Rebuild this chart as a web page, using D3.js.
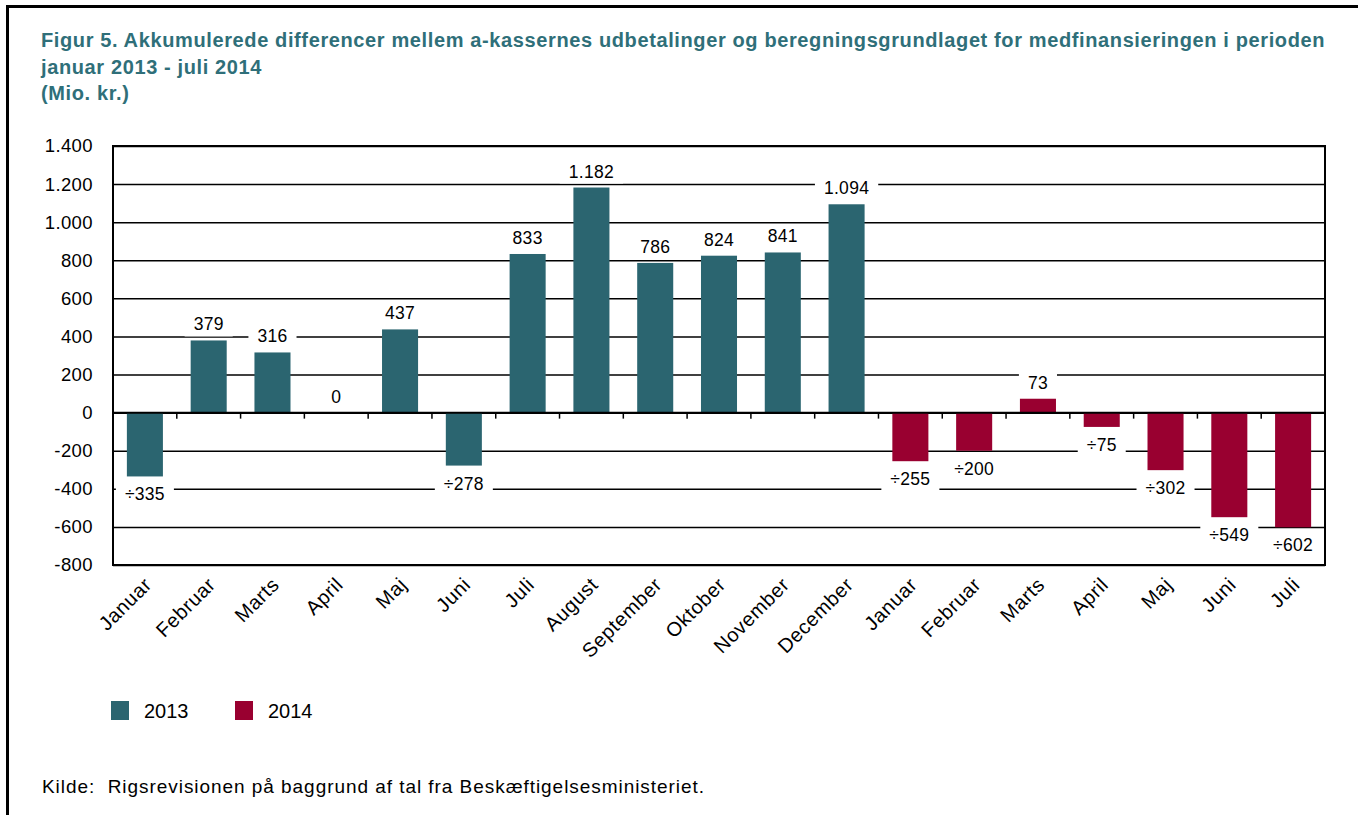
<!DOCTYPE html>
<html>
<head>
<meta charset="utf-8">
<script src="https://cdn.jsdelivr.net/npm/d3@7"></script>
<style>
	body { margin: 0; background: #fff; }
	svg { display: block; font-family: "Liberation Sans", Arial, sans-serif; }
</style>
</head>
<body>
<svg id="chart" width="1358" height="815"></svg>
<script>
// Categories (months) and the year each one belongs to
var months = [ 'Januar', 'Februar', 'Marts', 'April', 'Maj', 'Juni', 'Juli', 'August', 'September', 'Oktober', 'November', 'December',
	'Januar', 'Februar', 'Marts', 'April', 'Maj', 'Juni', 'Juli' ];
var years = [ '2013', '2013', '2013', '2013', '2013', '2013', '2013', '2013', '2013', '2013', '2013', '2013',
	'2014', '2014', '2014', '2014', '2014', '2014', '2014' ];
// Akkumulerede differencer, mio. kr.
var values = [ -335, 379, 316, 0, 437, -278, 833, 1182, 786, 824, 841, 1094,
	-255, -200, 73, -75, -302, -549, -602 ];
var seriesNames = [ '2013', '2014' ];
var yTicks = [ -800, -600, -400, -200, 0, 200, 400, 600, 800, 1000, 1200, 1400 ];

var titleLines = [
	'Figur 5. Akkumulerede differencer mellem a-kassernes udbetalinger og beregningsgrundlaget for medfinansieringen i perioden',
	'januar 2013 - juli 2014',
	'(Mio. kr.)'
];
var source = 'Kilde:  Rigsrevisionen på baggrund af tal fra Beskæftigelsesministeriet.';

var colors = { '2013': '#2b6570', '2014': '#990030' };
var titleColor = '#2f6f79';

var plot = { left: 113, top: 146, right: 1325, bottom: 565 };

var svg = d3.select( '#chart' );

var locale = d3.formatLocale( { decimal: ',', thousands: '.', grouping: [ 3 ], currency: [ '', '' ], minus: '-' } );
var fmt = locale.format( ',d' );
var labelFmt = function ( v ) {
	return v < 0 ? '\u00f7' + fmt( -v ) : fmt( v );
};

// outer frame (clipped at right / bottom like the source)
svg.append( 'rect' )
	.attr( 'x', 7.5 ).attr( 'y', 6.5 )
	.attr( 'width', 1400 ).attr( 'height', 900 )
	.attr( 'fill', 'none' ).attr( 'stroke', '#000' ).attr( 'stroke-width', 3 );

// title
svg.append( 'g' ).selectAll( 'text' )
	.data( titleLines )
	.enter()
	.append( 'text' )
	.attr( 'x', 41 )
	.attr( 'y', function ( d, i ) { return 47 + i * 26.5; } )
	.attr( 'fill', titleColor )
	.attr( 'font-weight', 'bold' )
	.attr( 'font-size', '20px' )
	.attr( 'letter-spacing', '0.62px' )
	.text( function ( d ) { return d; } );

var idx = d3.range( values.length );

var x = d3.scaleBand()
	.domain( idx )
	.range( [ plot.left, plot.right ] )
	.paddingInner( 0.435 )
	.paddingOuter( 0.2175 );

var y = d3.scaleLinear()
	.domain( [ -800, 1400 ] )
	.range( [ plot.bottom, plot.top ] );

// gridlines + y labels
var yAxis = svg.append( 'g' )
	.attr( 'transform', 'translate(' + plot.left + ',0)' )
	.call( d3.axisLeft( y ).tickValues( yTicks ).tickSize( -( plot.right - plot.left ) ).tickPadding( 20 ).tickFormat( fmt ) );
yAxis.select( '.domain' ).remove();
yAxis.selectAll( 'line' ).attr( 'stroke', '#000' ).attr( 'stroke-width', 1.5 );
yAxis.selectAll( 'text' )
	.attr( 'font-size', '18.5px' )
	.attr( 'letter-spacing', '0.4px' )
	.attr( 'fill', '#000' )
	.attr( 'font-family', '"Liberation Sans", Arial, sans-serif' );

// bars
svg.append( 'g' ).selectAll( 'rect' )
	.data( idx )
	.enter()
	.append( 'rect' )
	.attr( 'x', function ( i ) { return x( i ); } )
	.attr( 'width', x.bandwidth() )
	.attr( 'y', function ( i ) { return y( Math.max( 0, values[i] ) ); } )
	.attr( 'height', function ( i ) { return Math.abs( y( values[i] ) - y( 0 ) ); } )
	.attr( 'fill', function ( i ) { return colors[ years[i] ]; } );

// zero axis with category separators
svg.append( 'line' )
	.attr( 'x1', plot.left ).attr( 'x2', plot.right )
	.attr( 'y1', y( 0 ) ).attr( 'y2', y( 0 ) )
	.attr( 'stroke', '#000' ).attr( 'stroke-width', 2 );
svg.append( 'g' ).selectAll( 'line' )
	.data( d3.range( 1, values.length ) )
	.enter()
	.append( 'line' )
	.attr( 'x1', function ( i ) { return plot.left + x.step() * i; } )
	.attr( 'x2', function ( i ) { return plot.left + x.step() * i; } )
	.attr( 'y1', y( 0 ) )
	.attr( 'y2', y( 0 ) + 6 )
	.attr( 'stroke', '#000' ).attr( 'stroke-width', 1.5 );

// plot frame
svg.append( 'rect' )
	.attr( 'x', plot.left ).attr( 'y', plot.top )
	.attr( 'width', plot.right - plot.left ).attr( 'height', plot.bottom - plot.top )
	.attr( 'fill', 'none' ).attr( 'stroke', '#000' ).attr( 'stroke-width', 2 );

// data labels with white boxes that break the gridlines
var labels = svg.append( 'g' ).selectAll( 'g' )
	.data( idx )
	.enter()
	.append( 'g' );
labels.append( 'rect' ).attr( 'fill', '#fff' );
labels.append( 'text' )
	.attr( 'x', function ( i ) { return x( i ) + x.bandwidth() / 2; } )
	.attr( 'y', function ( i ) {
		return values[i] < 0 ? y( values[i] ) + 24 : y( values[i] ) - 10;
	} )
	.attr( 'text-anchor', 'middle' )
	.attr( 'font-size', '17.5px' )
	.attr( 'letter-spacing', '0.3px' )
	.attr( 'fill', '#000' )
	.text( function ( i ) { return labelFmt( values[i] ); } );
labels.each( function () {
	var g = d3.select( this );
	var b = g.select( 'text' ).node().getBBox();
	g.select( 'rect' )
		.attr( 'x', b.x - 9 ).attr( 'y', b.y - 2 )
		.attr( 'width', b.width + 18 ).attr( 'height', b.height + 4 );
} );

// x labels
var xAxis = svg.append( 'g' )
	.attr( 'transform', 'translate(0,' + plot.bottom + ')' )
	.call( d3.axisBottom( x ).tickSize( 0 ).tickFormat( function ( i ) { return months[i]; } ) );
xAxis.select( '.domain' ).remove();
xAxis.selectAll( 'text' )
	.attr( 'font-size', '20px' )
	.attr( 'letter-spacing', '0.6px' )
	.attr( 'fill', '#000' )
	.attr( 'font-family', '"Liberation Sans", Arial, sans-serif' )
	.attr( 'text-anchor', 'end' )
	.attr( 'x', 0 ).attr( 'y', 0 ).attr( 'dy', '0.35em' )
	.attr( 'transform', 'translate(3,16) rotate(-45)' );

// legend
var legend = svg.append( 'g' ).selectAll( 'g' )
	.data( seriesNames )
	.enter()
	.append( 'g' )
	.attr( 'transform', function ( d, i ) { return 'translate(' + ( 111 + i * 124 ) + ',701)'; } );
legend.append( 'rect' )
	.attr( 'width', 18 ).attr( 'height', 19 )
	.attr( 'fill', function ( d ) { return colors[d]; } );
legend.append( 'text' )
	.attr( 'x', 33 ).attr( 'y', 17 )
	.attr( 'font-size', '20px' )
	.text( function ( d ) { return d; } );

// source
svg.append( 'text' )
	.attr( 'x', 42 ).attr( 'y', 793 )
	.attr( 'font-size', '19px' )
	.attr( 'letter-spacing', '0.95px' )
	.attr( 'xml:space', 'preserve' )
	.style( 'white-space', 'pre' )
	.text( source );
</script>
</body>
</html>
